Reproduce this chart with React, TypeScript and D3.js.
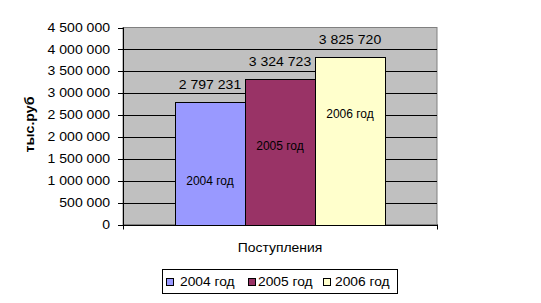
import React from "react";
import * as d3 from "d3";

const series = ["2004 год", "2005 год", "2006 год"];
const values = [2797231, 3324723, 3825720];
const colors = ["#9999FF", "#993366", "#FFFFCC"];
const category = "Поступления";
const yTicks = [0, 500000, 1000000, 1500000, 2000000, 2500000, 3000000, 3500000, 4000000, 4500000];
const yTitle = "тыс.руб";

const FONT = "'Liberation Sans', Arial, sans-serif";
const fmt = (v: number) => d3.format(",")(v).replace(/,/g, " ");

function T(props: {
  x: number; y: number; anchor?: string; size?: number; bold?: boolean; sx?: number; rot?: number; children: React.ReactNode;
}) {
  const { x, y, anchor = "middle", size = 12, bold = false, sx = 1.17, rot = 0, children } = props;
  return (
    <text
      transform={`translate(${x},${y}) rotate(${rot}) scale(${sx},1)`}
      textAnchor={anchor}
      dy="0.35em"
      fontFamily={FONT}
      fontSize={size}
      fontWeight={bold ? "bold" : "normal"}
      fill="#000"
    >
      {children}
    </text>
  );
}

export default function App() {
  const W = 541, H = 303;
  const left = 123, right = 437, top = 27.5, bottom = 224.5;
  const y = d3.scaleLinear().domain([0, 4500000]).range([bottom, top]);
  const x0 = d3.scaleBand().domain([category]).range([left, right]).paddingInner(0).paddingOuter(0);
  const groupW = x0.bandwidth() / (1 + 1.5 * 1 / series.length * series.length / series.length);
  const bw = 70;
  const groupStart = (x0(category) as number) + (x0.bandwidth() - bw * series.length) / 2;
  const x1 = d3.scaleBand().domain(series).range([groupStart, groupStart + bw * series.length]);
  void groupW;
  const innerLabelAt = [1000000, 1800000, 2520000];

  const legendItems = [
    { sq: 166, tx: 180 },
    { sq: 248, tx: 258 },
    { sq: 323, tx: 335 },
  ];

  return (
    <svg width={W} height={H} style={{ position: "absolute", left: 0, top: 0 }}>
      <rect x={0} y={0} width={W} height={H} fill="#fff" />
      <rect x={left} y={top} width={right - left} height={bottom - top} fill="#C0C0C0" stroke="#808080" strokeWidth={1} />
      {yTicks.map((t) => (
        <g key={t}>
          {t > 0 && t < 4500000 && (
            <line x1={left} x2={right} y1={Math.round(y(t)) + 0.5} y2={Math.round(y(t)) + 0.5} stroke="#000" />
          )}
          <line x1={left - 5} x2={left} y1={Math.round(y(t)) + 0.5} y2={Math.round(y(t)) + 0.5} stroke="#000" />
          <T x={110} y={y(t)} anchor="end">{fmt(t)}</T>
        </g>
      ))}
      {series.map((s, i) => {
        const bx = x1(s) as number;
        const by = y(values[i]);
        return (
          <g key={s}>
            <rect x={Math.round(bx) + 0.5} y={Math.round(by) + 0.5} width={x1.bandwidth()} height={Math.round(bottom) - Math.round(by)} fill={colors[i]} stroke="#000" />
            <T x={bx + x1.bandwidth() / 2} y={by - 17}>{fmt(values[i])}</T>
            <T x={bx + x1.bandwidth() / 2} y={y(innerLabelAt[i])} sx={1.0}>{s}</T>
          </g>
        );
      })}
      <line x1={left + 0.5} x2={left + 0.5} y1={top} y2={bottom + 5} stroke="#000" />
      <line x1={left} x2={right} y1={Math.round(bottom) + 0.5} y2={Math.round(bottom) + 0.5} stroke="#000" />
      <line x1={right + 0.5} x2={right + 0.5} y1={bottom} y2={bottom + 5} stroke="#000" />
      <T x={(left + right) / 2} y={248} sx={1.16}>{category}</T>
      <T x={30} y={124.5} rot={-90} bold sx={1.18}>{yTitle}</T>
      <rect x={162.5} y={269.5} width={235} height={24} fill="#fff" stroke="#000" />
      {series.map((s, i) => (
        <g key={s}>
          <rect x={legendItems[i].sq + 0.5} y={278.5} width={7} height={7} fill={colors[i]} stroke="#000" />
          <T x={legendItems[i].tx} y={282} anchor="start" sx={1.15}>{s}</T>
        </g>
      ))}
    </svg>
  );
}
